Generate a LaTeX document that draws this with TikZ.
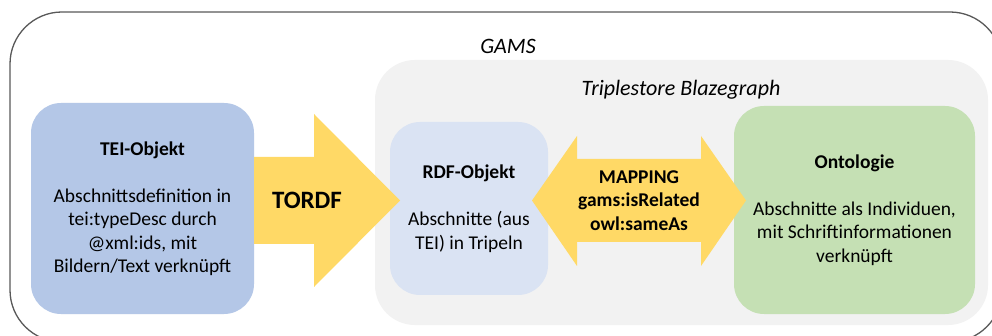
\documentclass[tikz,border=0pt]{standalone}
\usepackage{fontspec}
\setmainfont{Carlito}
\definecolor{teifill}{HTML}{B4C7E7}
\definecolor{rdffill}{HTML}{DAE3F3}
\definecolor{ontofill}{HTML}{C5E0B4}
\definecolor{arrowfill}{HTML}{FFD966}
\definecolor{storefill}{HTML}{F2F2F2}
\definecolor{outerline}{HTML}{595959}
\begin{document}
\begin{tikzpicture}[x=1pt,y=-1pt,
  box/.style={rounded corners=30pt, inner sep=0pt, align=center, text=black,
    font=\fontsize{19.5}{23.5}\selectfont},
  blockarrow/.style={fill=arrowfill, draw=none},
  caption/.style={font=\fontsize{22}{26}\selectfont\itshape, inner sep=0pt}]
\useasboundingbox (0,0) rectangle (992,336);
\clip (0,0) rectangle (992,336);
\draw[outerline, line width=1.3pt, fill=white, rounded corners=52pt] (10,12) rectangle (1002,342);
\node[caption] (gams) at (508,46) {GAMS};
\node[fill=storefill, rounded corners=40pt, minimum width=613pt, minimum height=265pt, inner sep=0pt] (store) at (681.5,192.5) {};
\node[caption] (storelabel) at (681,90) {Triplestore Blazegraph};
\node[box, fill=teifill, minimum width=223pt, minimum height=211pt] (tei) at (142.5,208.5)
  {\textbf{TEI-Objekt}\\[23.5pt]Abschnittsdefinition in\\tei:typeDesc durch\\@xml:ids, mit\\Bildern/Text verknüpft};
\node[box, fill=rdffill, minimum width=158pt, minimum height=173pt] (rdf) at (469,208.5)
  {\textbf{RDF-Objekt}\\[23.5pt]Abschnitte (aus\\TEI) in Tripeln};
\node[box, fill=ontofill, minimum width=241pt, minimum height=208pt] (onto) at (854.5,210)
  {\textbf{Ontologie}\\[23.5pt]Abschnitte als Individuen,\\mit Schriftinformationen\\verknüpft};
\fill[blockarrow] (254,157) -- (314,157) -- (314,114) -- (400,200.5) -- (314,287) -- (314,244) -- (254,244) -- cycle;
\node[font=\fontsize{25}{30}\selectfont\bfseries, inner sep=0pt] (tordf) at (307,200) {TORDF};
\fill[blockarrow] (532,200.5) -- (577,136) -- (577,159) -- (701,159) -- (701,136) -- (746,200.5) -- (701,266) -- (701,242) -- (577,242) -- (577,266) -- cycle;
\node[font=\fontsize{19.5}{23.5}\selectfont\bfseries, align=center, inner sep=0pt] (mapping) at (639,200.5)
  {MAPPING\\gams:isRelated\\owl:sameAs};
\end{tikzpicture}
\end{document}
